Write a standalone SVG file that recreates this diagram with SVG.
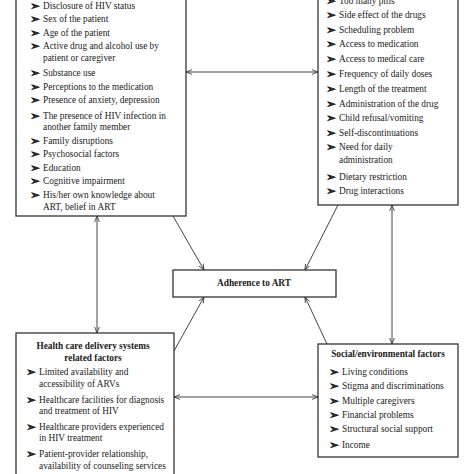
<svg xmlns="http://www.w3.org/2000/svg" width="474" height="474" viewBox="0 0 474 474">
<defs>
<marker id="ah" viewBox="0 0 10 10" refX="10" refY="5" markerWidth="6" markerHeight="6" orient="auto-start-reverse" markerUnits="userSpaceOnUse">
<path d="M0,1 L10,5 L0,9" fill="none" stroke="#333" stroke-width="1.4"/>
</marker>
<style>
.box{fill:#fff;stroke:#333;stroke-width:1.3}
.t{font-family:"Liberation Serif","Times New Roman",serif;font-size:9.3px;fill:#1a1a1a}
.b{font-family:"Liberation Serif","Times New Roman",serif;font-size:9.3px;font-weight:bold;fill:#1a1a1a;text-anchor:middle}
.bu{font-family:"DejaVu Sans",sans-serif;font-size:12px;fill:#1a1a1a;stroke:#1a1a1a;stroke-width:0.5}
.c{fill:none;stroke:#444;stroke-width:1}
</style>
</defs>
<rect width="474" height="474" fill="#fff"/>
<g id="connectors">
<line class="c" x1="186" y1="72" x2="318" y2="72" marker-start="url(#ah)" marker-end="url(#ah)"/>
<line class="c" x1="97" y1="216" x2="97" y2="333" marker-start="url(#ah)" marker-end="url(#ah)"/>
<line class="c" x1="392" y1="205" x2="392" y2="344" marker-start="url(#ah)" marker-end="url(#ah)"/>
<line class="c" x1="318" y1="397" x2="174" y2="397" marker-start="url(#ah)" marker-end="url(#ah)"/>
<line class="c" x1="173" y1="216" x2="204" y2="270" marker-end="url(#ah)"/>
<line class="c" x1="338" y1="205" x2="305" y2="270" marker-end="url(#ah)"/>
<line class="c" x1="174" y1="351" x2="204" y2="297" marker-end="url(#ah)"/>
<line class="c" x1="327" y1="344" x2="305" y2="297" marker-end="url(#ah)"/>
</g>
<g id="patient-factors">
<rect class="box" x="16" y="-10" width="170" height="226"/>
<g class="bu">
<text x="30" y="10">➢</text><text x="30" y="23">➢</text><text x="30" y="37">➢</text><text x="30" y="50">➢</text><text x="30" y="77">➢</text><text x="30" y="91">➢</text><text x="30" y="104">➢</text><text x="30" y="120">➢</text><text x="30" y="145">➢</text><text x="30" y="158">➢</text><text x="30" y="172">➢</text><text x="30" y="185">➢</text><text x="30" y="199">➢</text>
</g>
<g class="t">
<text x="43" y="9">Disclosure of HIV status</text>
<text x="43" y="22">Sex of the patient</text>
<text x="43" y="36">Age of the patient</text>
<text x="43" y="49">Active drug and alcohol use by</text>
<text x="43" y="61">patient or caregiver</text>
<text x="43" y="76">Substance use</text>
<text x="43" y="90">Perceptions to the medication</text>
<text x="43" y="103">Presence of anxiety, depression</text>
<text x="43" y="119">The presence of HIV infection in</text>
<text x="43" y="130">another family member</text>
<text x="43" y="144">Family disruptions</text>
<text x="43" y="157">Psychosocial factors</text>
<text x="43" y="171">Education</text>
<text x="43" y="184">Cognitive impairment</text>
<text x="43" y="198">His/her own knowledge about</text>
<text x="43" y="210">ART, belief in ART</text>
</g>
</g>
<g id="medication-factors">
<rect class="box" x="318" y="-10" width="140" height="215"/>
<g class="bu">
<text x="326" y="5">➢</text><text x="326" y="19">➢</text><text x="326" y="34">➢</text><text x="326" y="48">➢</text><text x="326" y="63">➢</text><text x="326" y="78">➢</text><text x="326" y="93">➢</text><text x="326" y="108">➢</text><text x="326" y="122">➢</text><text x="326" y="137">➢</text><text x="326" y="151">➢</text><text x="326" y="181">➢</text><text x="326" y="195">➢</text>
</g>
<g class="t">
<text x="339" y="4">Too many pills</text>
<text x="339" y="18">Side effect of the drugs</text>
<text x="339" y="33">Scheduling problem</text>
<text x="339" y="47">Access to medication</text>
<text x="339" y="62">Access to medical care</text>
<text x="339" y="77">Frequency of daily doses</text>
<text x="339" y="92">Length of the treatment</text>
<text x="339" y="107">Administration of the drug</text>
<text x="339" y="121">Child refusal/vomiting</text>
<text x="339" y="136">Self-discontinuations</text>
<text x="339" y="150">Need for daily</text>
<text x="339" y="163">administration</text>
<text x="339" y="180">Dietary restriction</text>
<text x="339" y="194">Drug interactions</text>
</g>
</g>
<g id="adherence">
<rect class="box" x="173" y="270" width="163" height="27"/>
<text class="b" x="254" y="286">Adherence to ART</text>
</g>
<g id="health-care-factors">
<rect class="box" x="16" y="333" width="158" height="150"/>
<text class="b" x="93" y="349">Health care delivery systems</text>
<text class="b" x="93" y="361">related factors</text>
<g class="bu">
<text x="26" y="376">➢</text><text x="26" y="404">➢</text><text x="26" y="431">➢</text><text x="26" y="458">➢</text>
</g>
<g class="t">
<text x="39" y="375">Limited availability and</text>
<text x="39" y="387">accessibility of ARVs</text>
<text x="39" y="403">Healthcare facilities for diagnosis</text>
<text x="39" y="414">and treatment of HIV</text>
<text x="39" y="430">Healthcare providers experienced</text>
<text x="39" y="441">in HIV treatment</text>
<text x="39" y="457">Patient-provider relationship,</text>
<text x="39" y="469">availability of counseling services</text>
</g>
</g>
<g id="social-factors">
<rect class="box" x="318" y="344" width="140" height="113"/>
<text class="b" x="388" y="357">Social/environmental factors</text>
<g class="bu">
<text x="329" y="376">➢</text><text x="329" y="390">➢</text><text x="329" y="405">➢</text><text x="329" y="419">➢</text><text x="329" y="433">➢</text><text x="329" y="449">➢</text>
</g>
<g class="t">
<text x="342" y="375">Living conditions</text>
<text x="342" y="389">Stigma and discriminations</text>
<text x="342" y="404">Multiple caregivers</text>
<text x="342" y="418">Financial problems</text>
<text x="342" y="432">Structural social support</text>
<text x="342" y="448">Income</text>
</g>
</g>
</svg>
